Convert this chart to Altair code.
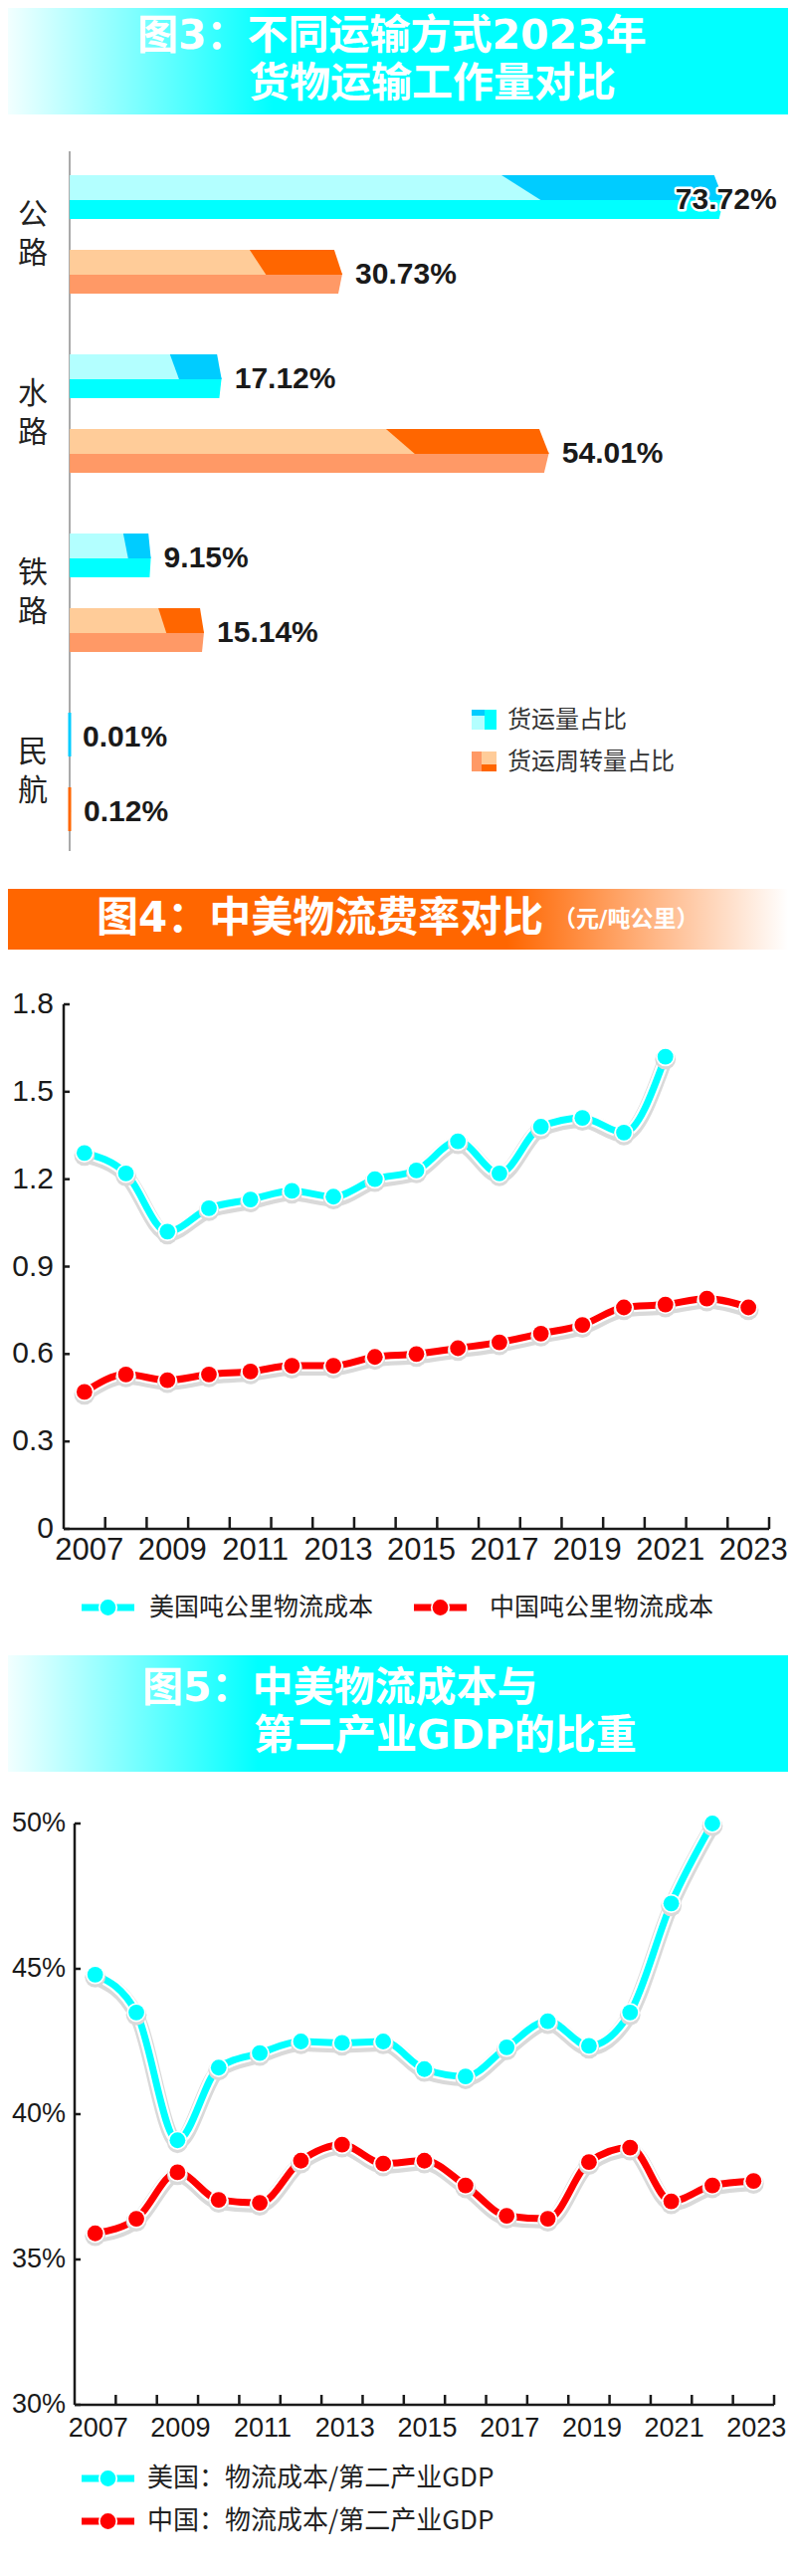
import altair as alt
import pandas as pd

# ---------------- data ----------------
title3 = ["图3：不同运输方式2023年", "货物运输工作量对比"]
modes = ["公路", "水路", "铁路", "民航"]
volume_share = [73.72, 17.12, 9.15, 0.01]
turnover_share = [30.73, 54.01, 15.14, 0.12]
bar_legend = ["货运量占比", "货运周转量占比"]

title4 = ["图4：中美物流费率对比", "（元/吨公里）"]
years = [2007, 2008, 2009, 2010, 2011, 2012, 2013, 2014, 2015, 2016, 2017, 2018, 2019, 2020, 2021, 2022, 2023]
label_years = [2007, 2009, 2011, 2013, 2015, 2017, 2019, 2021, 2023]
year_labels = ["2007", "2009", "2011", "2013", "2015", "2017", "2019", "2021", "2023"]
rate_us = [1.29, 1.22, 1.02, 1.10, 1.13, 1.16, 1.14, 1.20, 1.23, 1.33, 1.22, 1.38, 1.41, 1.36, 1.62]
rate_cn = [0.47, 0.53, 0.51, 0.53, 0.54, 0.56, 0.56, 0.59, 0.60, 0.62, 0.64, 0.67, 0.70, 0.76, 0.77, 0.79, 0.76]
rate_ticks = [0, 0.3, 0.6, 0.9, 1.2, 1.5, 1.8]
rate_tick_labels = ["0", "0.3", "0.6", "0.9", "1.2", "1.5", "1.8"]
rate_legend = ["美国吨公里物流成本", "中国吨公里物流成本"]

title5 = ["图5：中美物流成本与", "第二产业GDP的比重"]
share_us = [44.8, 43.5, 39.1, 41.6, 42.1, 42.5, 42.45, 42.5, 41.55, 41.3, 42.3, 43.2, 42.35, 43.5, 47.25, 50.0]
share_cn = [35.9, 36.4, 38.0, 37.05, 36.95, 38.4, 38.95, 38.3, 38.4, 37.55, 36.5, 36.4, 38.35, 38.85, 37.0, 37.55, 37.7]
share_ticks = [30, 35, 40, 45, 50]
share_tick_labels = ["30%", "35%", "40%", "45%", "50%"]
share_legend = ["美国：物流成本/第二产业GDP", "中国：物流成本/第二产业GDP"]

# ---------------- style ----------------
W = 784
CJK = "Noto Sans CJK SC"
HEAD = "DejaVu Sans, Noto Sans CJK SC"
LAT = "Liberation Sans"
INK = "#1a1a1a"
CYAN = "#00ffff"
RED = "#ff0000"
ORANGE = "#ff6600"
CY = {"light": "#b3ffff", "dark": "#00ccff", "base": "#00ffff"}
OR = {"light": "#ffcc99", "dark": "#ff6600", "base": "#ff9966"}

one = pd.DataFrame({"k": [0]})


def rect(x, x2, y, y2, fill):
    return alt.Chart(one).mark_rect(color=fill).encode(
        x=alt.value(x), x2=alt.value(x2), y=alt.value(y), y2=alt.value(y2))


def band(h, stops):
    grad = alt.LinearGradient(
        gradient="linear", x1=0, y1=0, x2=1, y2=0,
        stops=[alt.GradientStop(offset=o, color=c) for o, c in stops])
    return alt.Chart(one).mark_rect(color=grad).encode(
        x=alt.value(0), x2=alt.value(W), y=alt.value(0), y2=alt.value(h))


def text(t, x, y, size, color=INK, weight="normal", align="left", font=CJK):
    return alt.Chart(pd.DataFrame({"t": [t]})).mark_text(
        align=align, baseline="middle", fontSize=size, font=font,
        fontWeight=weight, color=color).encode(
        x=alt.value(x), y=alt.value(y), text="t:N")


# ---------------- panel 1: header ----------------
p1 = alt.layer(
    band(107, [(0, "#f2ffff"), (0.34, CYAN), (1, CYAN)]),
    text(title3[0], 130, 29, 41, "white", "bold", font=HEAD),
    text(title3[1], 242, 77, 41, "white", "bold", font=HEAD),
).properties(width=W, height=107)

# ---------------- panel 2: bars ----------------
xs_bar = alt.Scale(domain=[0, 80], range=[62, 775.6], nice=False, zero=False)
ys_bar = alt.Scale(domain=[0, 10], range=[61, 811], nice=False, zero=False)

poly, bars = [], []
for g, m in enumerate(modes):
    for k, (v, pal) in enumerate([(volume_share[g], CY), (turnover_share[g], OR)]):
        s = 2.4 * g + k
        top, mid, bot = s, s + 1 / 3, s + 0.587
        tip = min(0.03 * v, 1.1)
        pid = f"{g}-{k}"
        poly += [
            dict(pid=pid, part="base", y=mid - 0.02, x=0, x2=v, fill=pal["base"]),
            dict(pid=pid, part="base", y=bot, x=0, x2=v - tip / 2, fill=pal["base"]),
            dict(pid=pid, part="dark", y=top, x=0, x2=v - tip, fill=pal["dark"]),
            dict(pid=pid, part="dark", y=mid, x=0, x2=v, fill=pal["dark"]),
            dict(pid=pid, part="light", y=top, x=0, x2=0.66 * v, fill=pal["light"]),
            dict(pid=pid, part="light", y=mid, x=0, x2=0.72 * v, fill=pal["light"]),
        ]
        bars.append(dict(v=v, top=top, bot=bot, ymid=mid, lx=min(v, 66.8),
                         lab=f"{v:.2f}%", c=pal["dark"]))
poly_df = pd.DataFrame(poly)
bar_df = pd.DataFrame(bars)
cat_df = pd.DataFrame({
    "y1": [2.4 * g + 0.787 - 0.26 for g in range(len(modes))],
    "y2": [2.4 * g + 0.787 + 0.26 for g in range(len(modes))],
    "c1": [m[0] for m in modes],
    "c2": [m[1] for m in modes],
})


def area_part(part):
    return alt.Chart(poly_df).transform_filter(alt.datum.part == part).mark_area(
        orient="horizontal", interpolate="linear").encode(
        y=alt.Y("y:Q", scale=ys_bar, axis=None),
        x=alt.X("x:Q", scale=xs_bar, axis=None, stack=None),
        x2="x2:Q",
        detail="pid:N",
        color=alt.Color("fill:N", scale=None),
    )


axis_bar = alt.Chart(one).mark_rule(color="#aaaaaa", strokeWidth=2).encode(
    x=alt.value(62), y=alt.value(37), y2=alt.value(740))
stubs = alt.Chart(bar_df).transform_filter(alt.datum.v < 1).transform_calculate(zero="0").mark_rule(
    strokeWidth=3).encode(
    x=alt.X("zero:Q", scale=xs_bar, axis=None), y=alt.Y("top:Q", scale=ys_bar, axis=None), y2="bot:Q",
    color=alt.Color("c:N", scale=None))
lab_enc = dict(x=alt.X("lx:Q", scale=xs_bar, axis=None),
               y=alt.Y("ymid:Q", scale=ys_bar, axis=None), text="lab:N")
bar_labels_halo = alt.Chart(bar_df).mark_text(
    align="left", baseline="middle", dx=13, fontSize=30, font=LAT, fontWeight="bold",
    color="white", stroke="white", strokeWidth=5, strokeJoin="round").encode(**lab_enc)
bar_labels = alt.Chart(bar_df).mark_text(
    align="left", baseline="middle", dx=13, fontSize=30, font=LAT,
    fontWeight="bold", color=INK).encode(**lab_enc)
cat1 = alt.Chart(cat_df).mark_text(
    align="center", baseline="middle", fontSize=30, font=CJK, color="#222222").encode(
    x=alt.value(25), y=alt.Y("y1:Q", scale=ys_bar, axis=None), text="c1:N")
cat2 = alt.Chart(cat_df).mark_text(
    align="center", baseline="middle", fontSize=30, font=CJK, color="#222222").encode(
    x=alt.value(25), y=alt.Y("y2:Q", scale=ys_bar, axis=None), text="c2:N")

legend_bar = [
    rect(466, 479, 598, 604, CY["dark"]), rect(466, 479, 604, 618, CY["light"]),
    rect(479, 491, 598, 618, CY["base"]),
    rect(466, 476, 640, 660, OR["base"]), rect(476, 491, 640, 653, OR["light"]),
    rect(476, 491, 653, 660, OR["dark"]),
    text(bar_legend[0], 502, 609, 24, "#333333"),
    text(bar_legend[1], 502, 651, 24, "#333333"),
]

p2 = alt.layer(
    axis_bar, area_part("base"), area_part("dark"), area_part("light"), stubs,
    bar_labels_halo, bar_labels, cat1, cat2, *legend_bar,
).properties(width=W, height=778)

# ---------------- panel 3: orange header ----------------
p3 = alt.layer(
    band(61, [(0, ORANGE), (0.64, ORANGE), (1, "#ffffff")]),
    text(title4[0], 89, 30, 42, "white", "bold", font=HEAD),
    text(title4[1], 548, 31, 23, "white", "bold", font=HEAD),
).properties(width=W, height=61)


# ---------------- line panels ----------------
def line_panel(h, us, cn, ydom, yrng, xrng, ticks, tick_labels, ylab_x, ylab_size,
               xlab_dx, xlab_y, xlab_size, tick_len, legend_pos, legend_txt, legend_size):
    xs = alt.Scale(type="point", domain=years, range=xrng, padding=0.5)
    ys = alt.Scale(domain=ydom, range=yrng, nice=False, zero=False)
    step = (xrng[1] - xrng[0]) / len(years)
    x0, x1 = xrng
    y0, y1 = ydom
    df = pd.DataFrame({
        "year": years[:len(us)] + years[:len(cn)],
        "value": us + cn,
        "series": ["US"] * len(us) + ["CN"] * len(cn),
    })
    color = alt.Color("series:N", scale=alt.Scale(domain=["US", "CN"], range=[CYAN, RED]), legend=None)
    base = alt.Chart(df).encode(
        x=alt.X("year:O", scale=xs, axis=None),
        y=alt.Y("value:Q", scale=ys, axis=None),
        detail="series:N",
    )
    frame = pd.DataFrame({"lo": [y0], "hi": [y1]})
    tick_df = pd.DataFrame({"t": ticks, "lab": tick_labels})
    yr_df = pd.DataFrame({"year": years, "lo": [y0] * len(years)})
    lab_df = pd.DataFrame({"year": label_years, "lab": year_labels})
    layers = [
        alt.Chart(frame).mark_rule(color=INK, strokeWidth=2.5).encode(
            x=alt.value(x0), y=alt.Y("lo:Q", scale=ys, axis=None), y2="hi:Q"),
        alt.Chart(frame).mark_rule(color=INK, strokeWidth=2.5).encode(
            x=alt.value(x0), x2=alt.value(x1), y=alt.Y("lo:Q", scale=ys, axis=None)),
        alt.Chart(yr_df).mark_rule(
            color=INK, strokeWidth=2.5, xOffset=step / 2).encode(
            x=alt.X("year:O", scale=xs, axis=None), y=alt.Y("lo:Q", scale=ys, axis=None),
            y2=alt.value(yrng[0] - tick_len)),
        alt.Chart(tick_df).mark_rule(color=INK, strokeWidth=2.5).encode(
            x=alt.value(x0), x2=alt.value(x0 + 6), y=alt.Y("t:Q", scale=ys, axis=None)),
        alt.Chart(tick_df).mark_text(
            align="right", baseline="middle", fontSize=ylab_size, font=LAT, color=INK).encode(
            x=alt.value(ylab_x), y=alt.Y("t:Q", scale=ys, axis=None), text="lab:N"),
        alt.Chart(lab_df).mark_text(
            align="center", baseline="middle", dx=xlab_dx, fontSize=xlab_size, font=LAT, color=INK).encode(
            x=alt.X("year:O", scale=xs, axis=None), y=alt.value(xlab_y), text="lab:N"),
        base.mark_line(interpolate="monotone", strokeWidth=15, color="#d9d9d9", yOffset=2.5),
        base.mark_line(interpolate="monotone", strokeWidth=11.5, color="white"),
        base.mark_line(interpolate="monotone", strokeWidth=7).encode(color=color),
        base.mark_circle(size=430, color="#d9d9d9", opacity=1, yOffset=2.5),
        base.mark_circle(size=370, color="white", opacity=1),
        base.mark_circle(size=250, opacity=1).encode(color=color),
    ]
    for (a, b, tx, ly), t, c in zip(legend_pos, legend_txt, [CYAN, RED]):
        layers += [
            alt.Chart(one).mark_rule(color=c, strokeWidth=7).encode(
                x=alt.value(a), x2=alt.value(b), y=alt.value(ly)),
            alt.Chart(one).mark_circle(size=370, color="white", opacity=1).encode(
                x=alt.value((a + b) / 2), y=alt.value(ly)),
            alt.Chart(one).mark_circle(size=250, color=c, opacity=1).encode(
                x=alt.value((a + b) / 2), y=alt.value(ly)),
            text(t, tx, ly, legend_size, "#222222"),
        ]
    return alt.layer(*layers).properties(width=W, height=h)


p4 = line_panel(
    709, rate_us, rate_cn, [0, 1.8], [582, 55], [56, 765], rate_ticks, rate_tick_labels,
    46, 30, 5, 604, 31, 12,
    [(74, 127, 142, 661), (408, 461, 484, 661)], rate_legend, 25)

# ---------------- panel 5: header ----------------
p5 = alt.layer(
    band(117, [(0, "#f2ffff"), (0.32, CYAN), (1, CYAN)]),
    text(title5[0], 135, 34, 41, "white", "bold", font=HEAD),
    text(title5[1], 247, 82, 41, "white", "bold", font=HEAD),
).properties(width=W, height=117)

p6 = line_panel(
    800, share_us, share_cn, [30, 50], [636, 52], [67, 770], share_ticks, share_tick_labels,
    58, 27, 3, 660, 27, 10,
    [(74, 127, 140, 710), (74, 127, 140, 753)], share_legend, 26)

chart = alt.vconcat(p1, p2, p3, p4, p5, p6, spacing=0).properties(
    padding=0, background="white").configure_view(stroke=None)

chart.save("out.html", embed_options={"renderer": "svg", "actions": False})
